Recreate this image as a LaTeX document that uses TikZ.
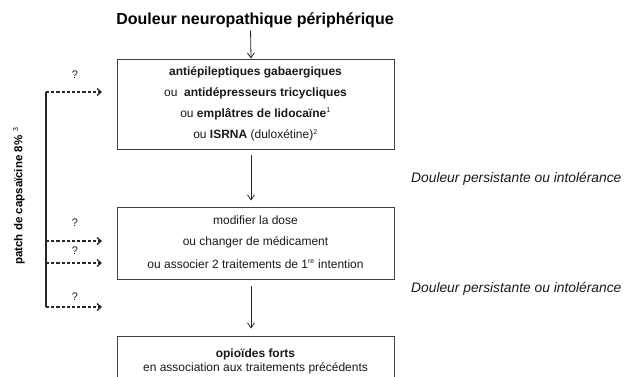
\documentclass[tikz,border=0pt]{standalone}
\usepackage{fontspec}
\setmainfont{Liberation Sans}
\usetikzlibrary{arrows.meta}
\tikzset{
  box/.style={draw=black!75, line width=0.9pt, minimum width=277pt, inner sep=0pt},
  txt/.style={inner sep=0pt, font=\fontsize{12}{14}\selectfont, text=black!90},
  qm/.style={inner sep=0pt, font=\fontsize{11}{13}\selectfont, text=black!90},
  side/.style={inner sep=0pt, anchor=west, font=\fontsize{13.8}{16}\selectfont\itshape, text=black!90},
  arr/.style={draw=black!85, line width=0.8pt, -{Straight Barb[length=5pt,width=7pt]}},
  darr/.style={draw=black!85, line width=1.3pt, dash pattern=on 3.2pt off 2pt, -{Straight Barb[length=4pt,width=7pt,line width=1.3pt]}},
  brk/.style={draw=black!85, line width=1.5pt}
}
\newcommand{\sups}[1]{\textsuperscript{\fontsize{7}{8}\selectfont #1}}
\begin{document}
\begin{tikzpicture}[x=1pt,y=-1pt]
\useasboundingbox (0,0) rectangle (624,376);
\clip (0,0) rectangle (624,376);
% title
\node[inner sep=0pt, font=\fontsize{16}{18}\selectfont\bfseries] (title) at (255,20) {Douleur neuropathique périphérique};
% boxes
\node[box, minimum height=90pt] (b1) at (255.5,104) {};
\node[box, minimum height=72pt] (b2) at (255.5,243) {};
\node[box, minimum height=70pt] (b3) at (255.5,371) {};
% box 1 text
\node[txt] (l11) at (255.5,72) {\bfseries antiépileptiques gabaergiques};
\node[txt] (l12) at (255.5,93) {ou\ \ \textbf{antidépresseurs tricycliques}};
\node[txt] (l13) at (255.5,114) {ou \textbf{emplâtres de lidocaïne}\sups{1}};
\node[txt] (l14) at (255.5,135) {ou \textbf{ISRNA} (duloxétine)\sups{2}};
% box 2 text
\node[txt] (l21) at (255.5,220) {modifier la dose};
\node[txt] (l22) at (255.5,242) {ou changer de médicament};
\node[txt] (l23) at (255.5,264) {ou associer 2 traitements de 1\sups{re} intention};
% box 3 text
\node[txt] (l31) at (255.5,354) {\bfseries opioïdes forts};
\node[txt] (l32) at (255.5,368) {en association aux traitements précédents};
% side labels
\node[side] (s1) at (411,179) {Douleur persistante ou intolérance};
\node[side] (s2) at (411,289) {Douleur persistante ou intolérance};
% vertical arrows
\draw[arr, shorten <=3pt] ([xshift=-4.5pt]title.south) -- ([xshift=-4.5pt]b1.north);
\draw[arr, shorten <=6pt, shorten >=6pt] ([xshift=-4.5pt]b1.south) -- ([xshift=-4.5pt]b2.north);
\draw[arr, shorten <=7pt, shorten >=7pt] ([xshift=-4.5pt]b2.south) -- ([xshift=-4.5pt]b3.north);
% bracket
\coordinate (c1) at (46,92);
\coordinate (c2) at (46,241);
\coordinate (c3) at (46,263);
\coordinate (c4) at (46,307);
\coordinate (e1) at (102,92);
\coordinate (e2) at (102,241);
\coordinate (e3) at (102,263);
\coordinate (e4) at (102,307);
\draw[brk] (c1) -- (c4);
\draw[darr] (c1) -- (e1);
\draw[darr] (c2) -- (e2);
\draw[darr] (c3) -- (e3);
\draw[darr] (c4) -- (e4);
\node[qm] (q1) at (75,75) {?};
\node[qm] (q2) at (75,223) {?};
\node[qm] (q3) at (75,251) {?};
\node[qm] (q4) at (75,297) {?};
% rotated label
\node[inner sep=0pt, rotate=90, font=\fontsize{11.5}{13}\selectfont\bfseries] (patch) at (19,196) {patch de capsaïcine 8\%\,\,{\mdseries\sups{3}}};
\end{tikzpicture}
\end{document}
